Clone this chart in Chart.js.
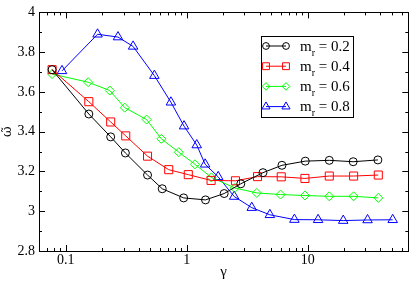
<!DOCTYPE html>
<html>
<head>
<meta charset="utf-8">
<script src="https://cdn.jsdelivr.net/npm/chart.js@4.4.1/dist/chart.umd.min.js"></script>
<style>
  html, body { margin: 0; padding: 0; background: #fff; }
  #wrap { width: 415px; height: 281px; }
</style>
</head>
<body>
<div id="wrap"><canvas id="chart" width="415" height="281"></canvas></div>
<script>
// gamma values and omega~ for each m_r
const gamma02 = [0.077, 0.155, 0.235, 0.311, 0.474, 0.627, 0.943, 1.43, 2.04, 2.8, 4.27, 6.13, 9.56, 15.1, 23.8, 38.1];
const omega02 = [3.712, 3.489, 3.374, 3.293, 3.182, 3.113, 3.067, 3.057, 3.089, 3.138, 3.194, 3.231, 3.252, 3.256, 3.249, 3.258];

const gamma04 = [0.077, 0.155, 0.235, 0.313, 0.474, 0.71, 1.03, 1.59, 2.53, 3.85, 6.05, 9.5, 15.1, 24, 38.4];
const omega04 = [3.712, 3.551, 3.449, 3.379, 3.277, 3.209, 3.184, 3.155, 3.153, 3.174, 3.173, 3.165, 3.177, 3.177, 3.182];

const gamma06 = [0.077, 0.153, 0.231, 0.307, 0.466, 0.617, 0.86, 1.17, 1.6, 2.5, 3.8, 5.97, 9.5, 15.1, 24, 38.4];
const omega06 = [3.69, 3.649, 3.607, 3.521, 3.461, 3.364, 3.297, 3.236, 3.17, 3.117, 3.092, 3.084, 3.079, 3.075, 3.075, 3.067];

const gamma08 = [0.093, 0.183, 0.27, 0.36, 0.54, 0.74, 0.95, 1.21, 1.42, 1.82, 2.47, 3.45, 4.87, 7.77, 12.2, 19.7, 31.3, 50.5];
const omega08 = [3.706, 3.89, 3.876, 3.829, 3.682, 3.548, 3.428, 3.333, 3.236, 3.173, 3.074, 3.018, 2.982, 2.958, 2.957, 2.953, 2.956, 2.957];

const seriesLabels = ["0.2", "0.4", "0.6", "0.8"];
const xTickValues = [0.1, 1, 10];

const FONT = '"Liberation Serif", "Times New Roman", serif';

function pts(gs, ws) {
  return gs.map((g, i) => ({ x: g, y: ws[i] }));
}

function series(label, gs, ws, color, style, radius) {
  return {
    label: label,
    data: pts(gs, ws),
    showLine: true,
    borderColor: color,
    borderWidth: 1,
    pointStyle: style,
    pointRadius: radius,
    pointHoverRadius: radius,
    pointBorderColor: color,
    pointBackgroundColor: "rgba(0,0,0,0)",
    pointBorderWidth: 1,
    tension: 0,
  };
}

// frame, inward ticks, and the legend with subscripts
const framePlugin = {
  id: "frame",
  afterDraw(chart) {
    const ctx = chart.ctx;
    const a = chart.chartArea;
    const xs = chart.scales.x, ys = chart.scales.y;
    ctx.save();
    ctx.strokeStyle = "#000";
    ctx.lineWidth = 1;
    ctx.strokeRect(Math.round(a.left) + 0.5, Math.round(a.top) + 0.5,
      Math.round(a.right - a.left), Math.round(a.bottom - a.top));

    ctx.beginPath();
    // y ticks every 0.1, major each 0.2
    for (let i = 0; i <= 12; i++) {
      const v = 2.8 + i * 0.1;
      const py = Math.round(ys.getPixelForValue(v)) + 0.5;
      const len = i % 2 === 0 ? 6 : 3;
      ctx.moveTo(a.left, py); ctx.lineTo(a.left + len, py);
      ctx.moveTo(a.right, py); ctx.lineTo(a.right - len, py);
    }
    // log x ticks
    for (let d = 0.01; d <= 100; d *= 10) {
      for (let k = 1; k <= 9; k++) {
        const v = k * d;
        if (v < xs.min || v > xs.max) continue;
        const px = Math.round(xs.getPixelForValue(v)) + 0.5;
        const len = k === 1 ? 6 : 3;
        ctx.moveTo(px, a.bottom); ctx.lineTo(px, a.bottom - len);
        ctx.moveTo(px, a.top); ctx.lineTo(px, a.top + len);
      }
    }
    ctx.stroke();

    // legend
    const bx = 261.5, by = 36.5, bw = 92, bh = 81;
    ctx.fillStyle = "#fff";
    ctx.fillRect(bx, by, bw, bh);
    ctx.strokeRect(bx, by, bw, bh);
    chart.data.datasets.forEach((ds, i) => {
      const y = 46 + i * 20.2;
      ctx.strokeStyle = ds.borderColor;
      ctx.lineWidth = 1;
      ctx.beginPath();
      ctx.moveTo(266, y); ctx.lineTo(286, y);
      ctx.stroke();
      ctx.fillStyle = "rgba(0,0,0,0)";
      [266, 286].forEach((lx) => {
        Chart.helpers.drawPoint(ctx, {
          pointStyle: ds.pointStyle,
          radius: ds.pointRadius * 0.85,
          rotation: 0,
          borderWidth: 1,
        }, lx, y);
      });
      ctx.fillStyle = "#000";
      ctx.textBaseline = "alphabetic";
      ctx.textAlign = "left";
      ctx.font = "15px " + FONT;
      ctx.fillText("m", 300, y + 4.5);
      const mw = ctx.measureText("m").width;
      ctx.font = "10px " + FONT;
      ctx.fillText("r", 300 + mw, y + 9.5);
      const rw = ctx.measureText("r").width;
      ctx.font = "15px " + FONT;
      ctx.fillText(" = " + ds.label, 300 + mw + rw, y + 4.5);
    });
    ctx.restore();
  },
};

new Chart(document.getElementById("chart"), {
  type: "scatter",
  data: {
    datasets: [
      series(seriesLabels[0], gamma02, omega02, "#000000", "circle", 4),
      series(seriesLabels[1], gamma04, omega04, "#ff0000", "rect", 5.7),
      series(seriesLabels[2], gamma06, omega06, "#00ff00", "rectRot", 4.5),
      series(seriesLabels[3], gamma08, omega08, "#0000ff", "triangle", 5.5),
    ],
  },
  options: {
    responsive: false,
    animation: false,
    events: [],
    layout: { padding: { top: 7, right: 3, left: 0, bottom: 0 } },
    plugins: {
      legend: { display: false },
      tooltip: { enabled: false },
    },
    scales: {
      x: {
        type: "logarithmic",
        min: 0.06,
        max: 68,
        grid: { display: false, drawTicks: false },
        border: { display: false },
        afterBuildTicks(scale) {
          scale.ticks = xTickValues.map((v) => ({ value: v }));
        },
        afterFit(scale) { scale.height = 30; },
        ticks: {
          autoSkip: false,
          maxRotation: 0,
          padding: 1,
          color: "#000",
          font: { family: FONT, size: 14 },
          callback: (v) => String(v),
        },
        title: {
          display: true,
          text: "γ",
          color: "#000",
          padding: 0,
          font: { family: FONT, size: 15 },
        },
      },
      y: {
        min: 2.8,
        max: 4,
        grid: { display: false, drawTicks: false },
        border: { display: false },
        afterFit(scale) { scale.width = 39; },
        ticks: {
          stepSize: 0.2,
          padding: 4,
          color: "#000",
          font: { family: FONT, size: 14 },
          callback: (v) => String(+v.toFixed(1)),
        },
        title: {
          display: true,
          text: "ω\u0303",
          color: "#000",
          padding: 0,
          font: { family: '"DejaVu Serif", serif', size: 13 },
        },
      },
    },
  },
  plugins: [framePlugin],
});
</script>
</body>
</html>
